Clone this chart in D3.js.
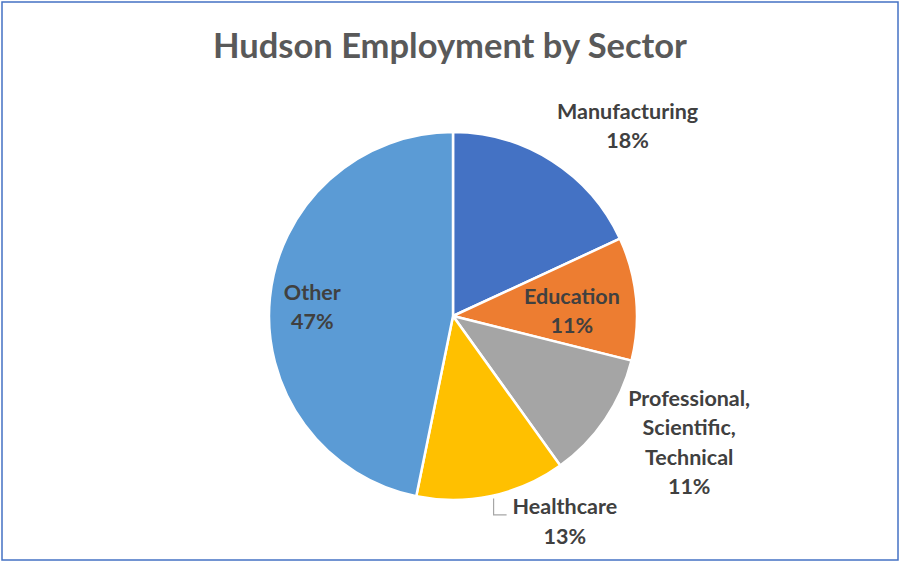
<!DOCTYPE html>
<html>
<head>
<meta charset="utf-8">
<script src="https://cdn.jsdelivr.net/npm/d3@7"></script>
<style>
  body { margin: 0; background: #fff; }
  svg { display: block; }
</style>
</head>
<body>
<svg id="chart" width="900" height="562"></svg>
<script>
// data
const sectors = ['Manufacturing', 'Education', 'Professional, Scientific, Technical', 'Healthcare', 'Other'];
const shares = [18.1, 10.8, 11.2, 13.1, 46.8];
const colors = ['#4472C4', '#ED7D31', '#A5A5A5', '#FFC000', '#5B9BD5'];
// label lines (multi-line where the picture wraps)
const labelLines = [['Manufacturing'], ['Education'], ['Professional,', 'Scientific,', 'Technical'], ['Healthcare'], ['Other']];

// where each label sits: radius from centre and angle shift off the slice middle (deg)
const labelPlace = [
  { r: 258, shift: 10 },
  { r: 119, shift: 3 },
  { r: 268, shift: -6 },
  { r: 234, shift: -16.5 },
  { r: 141, shift: -2 }
];

const W = 900, H = 562;
const cx = 453, cy = 316, radius = 184;

const svg = d3.select('#chart');

// outer frame
svg.append('rect')
  .attr('x', 2).attr('y', 2)
  .attr('width', W - 4).attr('height', H - 4)
  .attr('fill', 'none')
  .attr('stroke', '#4472C4')
  .attr('stroke-width', 1.5);

svg.append('text')
  .attr('x', W / 2)
  .attr('y', 58)
  .attr('text-anchor', 'middle')
  .attr('font-family', 'Lato, sans-serif')
  .attr('font-weight', 'bold')
  .attr('font-size', 34.5)
  .attr('fill', '#595959')
  .text('Hudson Employment by Sector');

const pie = d3.pie().sort(null).value(d => d);
const arcs = pie(shares);
const total = d3.sum(shares);

const arc = d3.arc().innerRadius(0).outerRadius(radius);

const g = svg.append('g').attr('transform', `translate(${cx},${cy})`);

g.selectAll('path')
  .data(arcs)
  .enter().append('path')
  .attr('d', arc)
  .attr('fill', (d, i) => colors[i])
  .attr('stroke', '#fff')
  .attr('stroke-width', 2.5)
  .attr('stroke-linejoin', 'round');

const lineH = 29.5;

arcs.forEach((d, i) => {
  const p = labelPlace[i];
  const a = (d.startAngle + d.endAngle) / 2 + p.shift * Math.PI / 180;
  const x = p.r * Math.sin(a);
  const y = -p.r * Math.cos(a);
  const lines = labelLines[i].concat([Math.round(shares[i] / total * 100) + '%']);
  const t = g.append('text')
    .attr('text-anchor', 'middle')
    .attr('font-family', 'Lato, sans-serif')
    .attr('font-weight', 'bold')
    .attr('font-size', 21.5)
    .attr('fill', '#404040');
  lines.forEach((ln, k) => {
    t.append('tspan')
      .attr('x', x)
      .attr('y', y + (k - (lines.length - 1) / 2) * lineH)
      .attr('dy', '0.35em')
      .text(ln);
  });

  // healthcare has a small leader line back to its slice
  if (sectors[i] === 'Healthcare') {
    const bb = t.node().getBBox();
    const lx = bb.x - 6;            // end of the leader, just left of the text
    const vx = lx - 13;             // vertical part
    const y0 = Math.sqrt(radius * radius - vx * vx) + 3;
    const y1 = y - lineH / 2 + 8;
    g.append('path')
      .attr('d', d3.line()([[vx, y0], [vx, y1], [lx, y1]]))
      .attr('fill', 'none')
      .attr('stroke', '#A6A6A6')
      .attr('stroke-width', 1.2);
  }
});
</script>
</body>
</html>
